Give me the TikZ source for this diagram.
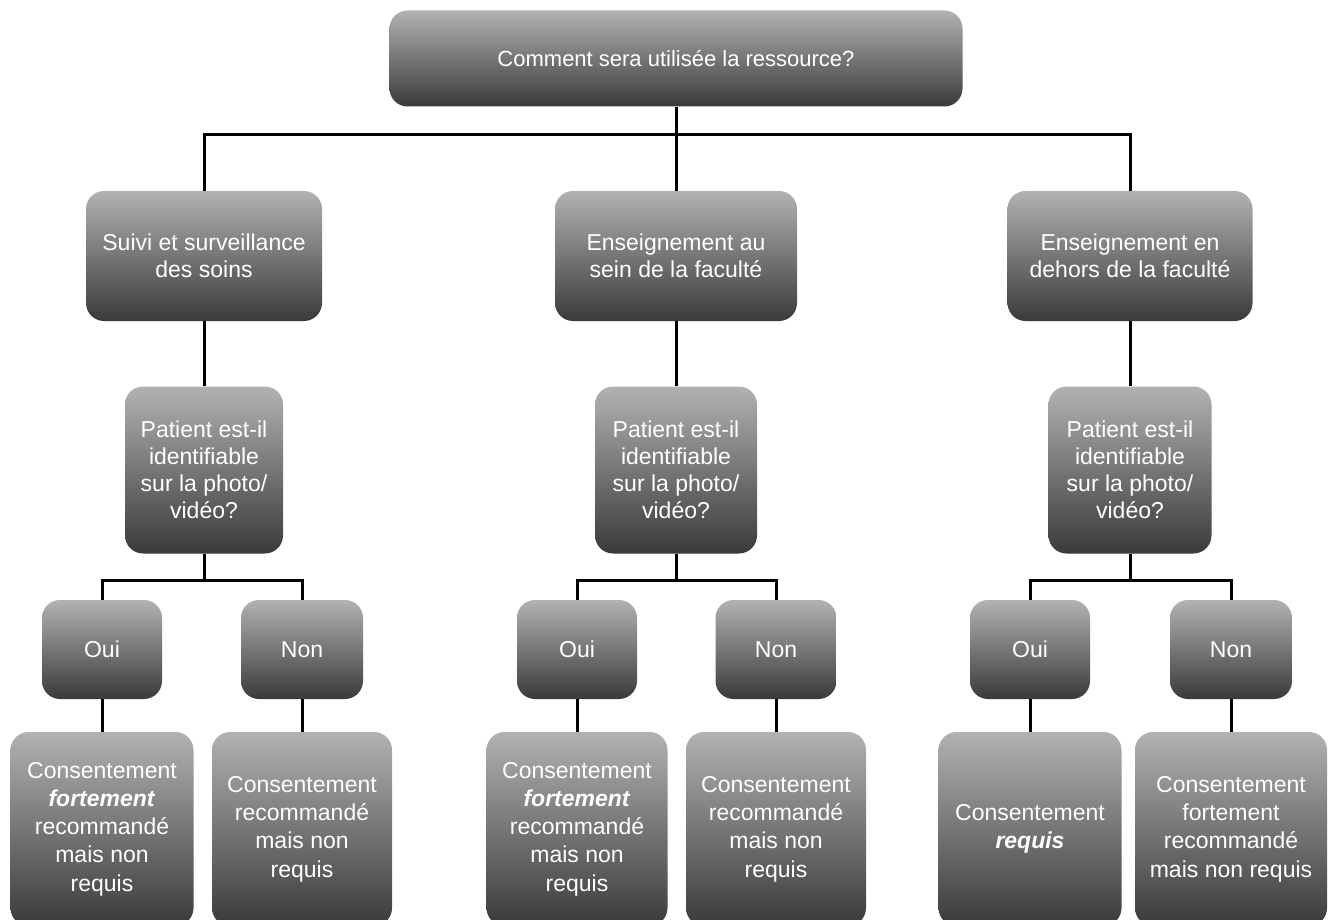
\documentclass[tikz,border=0pt]{standalone}
\usepackage{fontspec}
\setmainfont{Liberation Sans}
\definecolor{gtop}{RGB}{178,178,178}
\definecolor{gbot}{RGB}{58,58,58}
\begin{document}
\begin{tikzpicture}[x=1pt,y=-1pt,
  box/.style={rounded corners=18pt, top color=gtop, bottom color=gbot, draw=none,
    text=white, align=center, inner sep=0pt, font=\fontsize{23}{27}\selectfont},
  leaf/.style={box, minimum height=194pt, font=\fontsize{23}{28.3}\selectfont},
  link/.style={line width=3pt, draw=black}]
\useasboundingbox (0,0) rectangle (1333,920);
\begin{scope}
\clip (0,0) rectangle (1333,920);
% top
\node[box, minimum width=573pt, minimum height=96pt, font=\fontsize{22}{27}\selectfont] (top) at (676,58.5) {Comment sera utilisée la ressource?};
% level 2
\node[box, minimum width=236pt, minimum height=130pt] (a1) at (204,256) {Suivi et surveillance\\des soins};
\node[box, minimum width=242pt, minimum height=130pt] (a2) at (676,256) {Enseignement au\\sein de la faculté};
\node[box, minimum width=245pt, minimum height=130pt] (a3) at (1130,256) {Enseignement en\\dehors de la faculté};
% level 3
\node[box, minimum width=158pt, minimum height=167pt] (q1) at (204,470) {Patient est-il\\identifiable\\sur la photo/\\vidéo?};
\node[box, minimum width=162pt, minimum height=167pt] (q2) at (676,470) {Patient est-il\\identifiable\\sur la photo/\\vidéo?};
\node[box, minimum width=163pt, minimum height=167pt] (q3) at (1130,470) {Patient est-il\\identifiable\\sur la photo/\\vidéo?};
% level 4
\node[box, minimum width=120pt, minimum height=99pt] (o1) at (102,649.5) {Oui};
\node[box, minimum width=122pt, minimum height=99pt] (n1) at (302,649.5) {Non};
\node[box, minimum width=120pt, minimum height=99pt] (o2) at (577,649.5) {Oui};
\node[box, minimum width=121pt, minimum height=99pt] (n2) at (776,649.5) {Non};
\node[box, minimum width=120pt, minimum height=99pt] (o3) at (1030,649.5) {Oui};
\node[box, minimum width=122pt, minimum height=99pt] (n3) at (1231,649.5) {Non};
% leaves
\node[leaf, minimum width=183pt] (c1) at (102,829) {Consentement\\\textbf{\textit{fortement}}\\recommandé\\mais non\\requis};
\node[leaf, minimum width=180pt] (d1) at (302,829) {Consentement\\recommandé\\mais non\\requis};
\node[leaf, minimum width=181pt] (c2) at (577,829) {Consentement\\\textbf{\textit{fortement}}\\recommandé\\mais non\\requis};
\node[leaf, minimum width=180pt] (d2) at (776,829) {Consentement\\recommandé\\mais non\\requis};
\node[leaf, minimum width=183pt] (c3) at (1030,829) {Consentement\\\textbf{\textit{requis}}};
\node[leaf, minimum width=192pt] (d3) at (1231,829) {Consentement\\fortement\\recommandé\\mais non requis};
\end{scope}
% connectors
\coordinate (h0) at (676,135);
\draw[link] (top.south) -- (a2.north);
\draw[link] (a1.north) |- (h0) -| (a3.north);
\foreach \i in {1,2,3}{
  \draw[link] (a\i.south) -- (q\i.north);
  \draw[link] (q\i.south) -- ++(0,26.5) coordinate (j\i);
  \draw[link] (o\i.north) |- (j\i) -| (n\i.north);
  \draw[link] (o\i.south) -- (c\i.north);
  \draw[link] (n\i.south) -- (d\i.north);
}
\end{tikzpicture}
\end{document}
